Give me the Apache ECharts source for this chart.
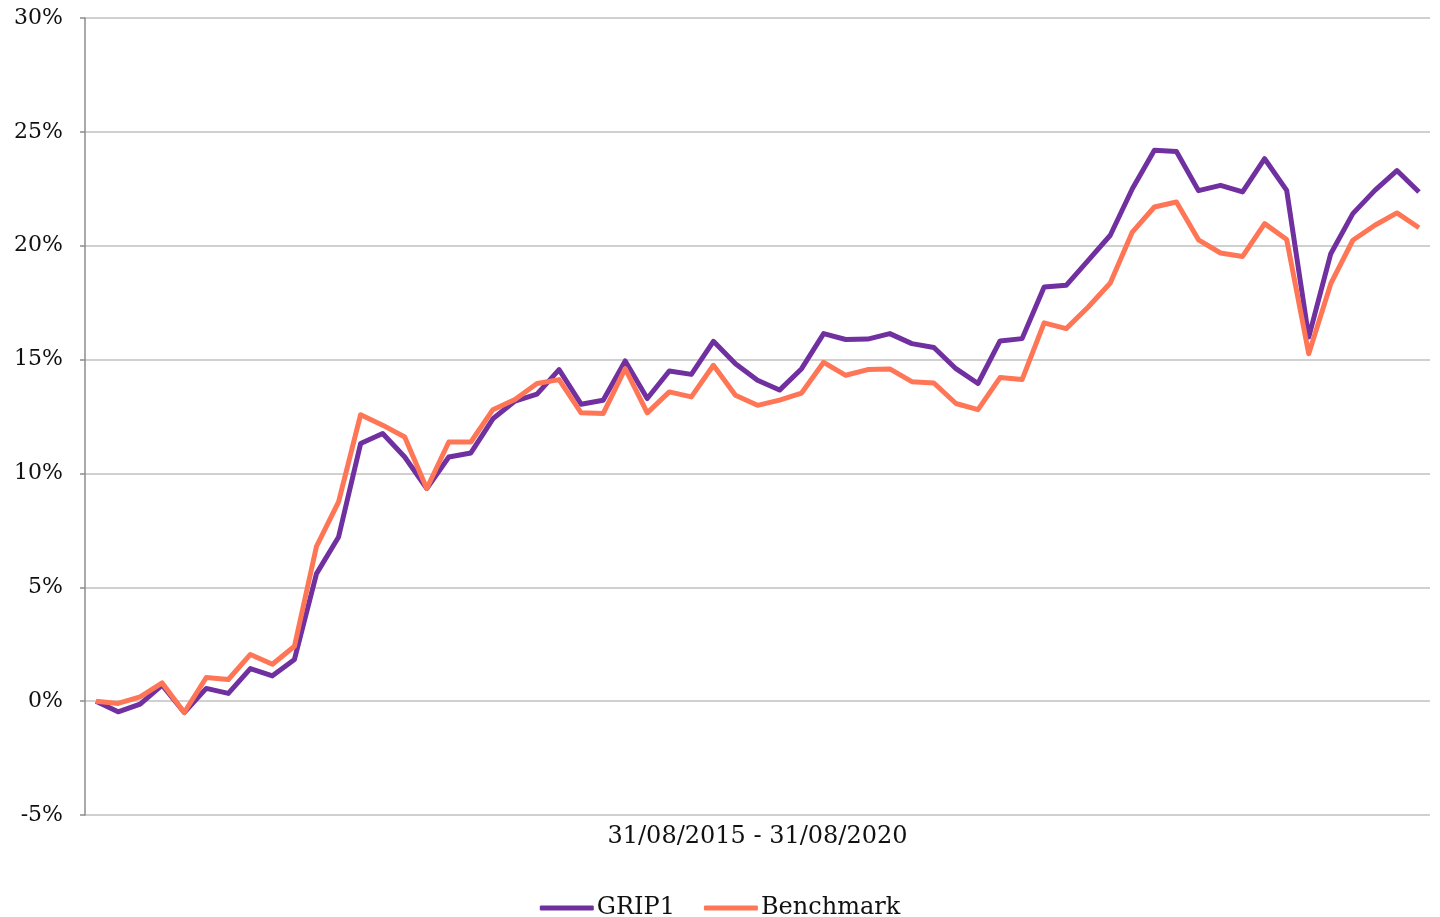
<!DOCTYPE html>
<html>
<head>
<meta charset="utf-8">
<title>GRIP1 vs Benchmark</title>
<script src="https://cdn.jsdelivr.net/npm/echarts@6/dist/echarts.min.js"></script>
<style>
  html, body { margin: 0; padding: 0; background: #ffffff; }
  #chart { width: 1440px; height: 917px; }
</style>
</head>
<body>
<div id="chart"></div>
<script>
// Cumulative performance (%), monthly observations 31/08/2015 - 31/08/2020
const periodLabel = '31/08/2015 - 31/08/2020';
const seriesNames = ['GRIP1', 'Benchmark'];

const grip1 = [
  0.00, -0.47, -0.13, 0.70, -0.50, 0.56, 0.34, 1.43, 1.11, 1.83,
  5.60, 7.21, 11.31, 11.75, 10.72, 9.34, 10.72, 10.90, 12.40, 13.18,
  13.48, 14.56, 13.04, 13.21, 14.94, 13.29, 14.50, 14.35, 15.80, 14.82,
  14.09, 13.66, 14.60, 16.14, 15.88, 15.90, 16.14, 15.70, 15.53, 14.60,
  13.95, 15.82, 15.92, 18.19, 18.26, 19.36, 20.46, 22.50, 24.19, 24.14,
  22.42, 22.65, 22.36, 23.82, 22.43, 15.99, 19.65, 21.41, 22.43, 23.30,
  22.36
];

const benchmark = [
  0.00, -0.10, 0.19, 0.80, -0.50, 1.04, 0.95, 2.05, 1.62, 2.41,
  6.80, 8.75, 12.58, 12.12, 11.60, 9.34, 11.38, 11.38, 12.80, 13.25,
  13.95, 14.12, 12.66, 12.63, 14.60, 12.66, 13.58, 13.36, 14.75, 13.43,
  12.99, 13.22, 13.53, 14.88, 14.31, 14.56, 14.59, 14.03, 13.97, 13.07,
  12.80, 14.21, 14.12, 16.61, 16.36, 17.31, 18.36, 20.60, 21.70, 21.92,
  20.26, 19.68, 19.53, 20.97, 20.27, 15.26, 18.33, 20.24, 20.90, 21.44,
  20.79
];

const yTicks = { min: -5, max: 30, step: 5 };
const categories = grip1.map((_, i) => String(i + 1));

const colors = ['#7030A0', '#FF7656'];
const serif = "Georgia, 'DejaVu Serif', serif";

const chart = echarts.init(document.getElementById('chart'), null, { renderer: 'canvas' });

chart.setOption({
  animation: false,
  backgroundColor: '#ffffff',
  color: colors,
  grid: { left: 85, right: 10, top: 18, bottom: 102, containLabel: false },
  legend: {
    data: seriesNames,
    top: 891,
    left: 'center',
    icon: 'roundRect',
    itemWidth: 54,
    itemHeight: 5,
    itemGap: 29,
    textStyle: { fontFamily: serif, fontSize: 24, color: '#111111', padding: [0, 0, 0, -2] }
  },
  xAxis: {
    type: 'category',
    data: categories,
    boundaryGap: true,
    name: periodLabel,
    nameLocation: 'middle',
    nameGap: 22,
    nameTextStyle: { fontFamily: serif, fontSize: 24, color: '#111111', verticalAlign: 'middle' },
    axisLine: { show: false },
    axisTick: { show: false },
    axisLabel: { show: false },
    splitLine: { show: false }
  },
  yAxis: {
    type: 'value',
    min: yTicks.min,
    max: yTicks.max,
    interval: yTicks.step,
    axisLine: { show: true, lineStyle: { color: '#8c8c8c', width: 1.5 } },
    axisTick: { show: true, length: 5, lineStyle: { color: '#8c8c8c', width: 1.5 } },
    axisLabel: {
      formatter: '{value}%',
      fontFamily: serif,
      fontSize: 22,
      color: '#111111',
      margin: 22
    },
    splitLine: { show: true, lineStyle: { color: '#c0c0c0', width: 1.5 } }
  },
  series: [
    {
      name: seriesNames[0],
      type: 'line',
      data: grip1,
      symbol: 'none',
      lineStyle: { width: 5, color: colors[0], join: 'round' },
      z: 3
    },
    {
      name: seriesNames[1],
      type: 'line',
      data: benchmark,
      symbol: 'none',
      lineStyle: { width: 5, color: colors[1], join: 'round' },
      z: 4
    }
  ]
});
</script>
</body>
</html>
